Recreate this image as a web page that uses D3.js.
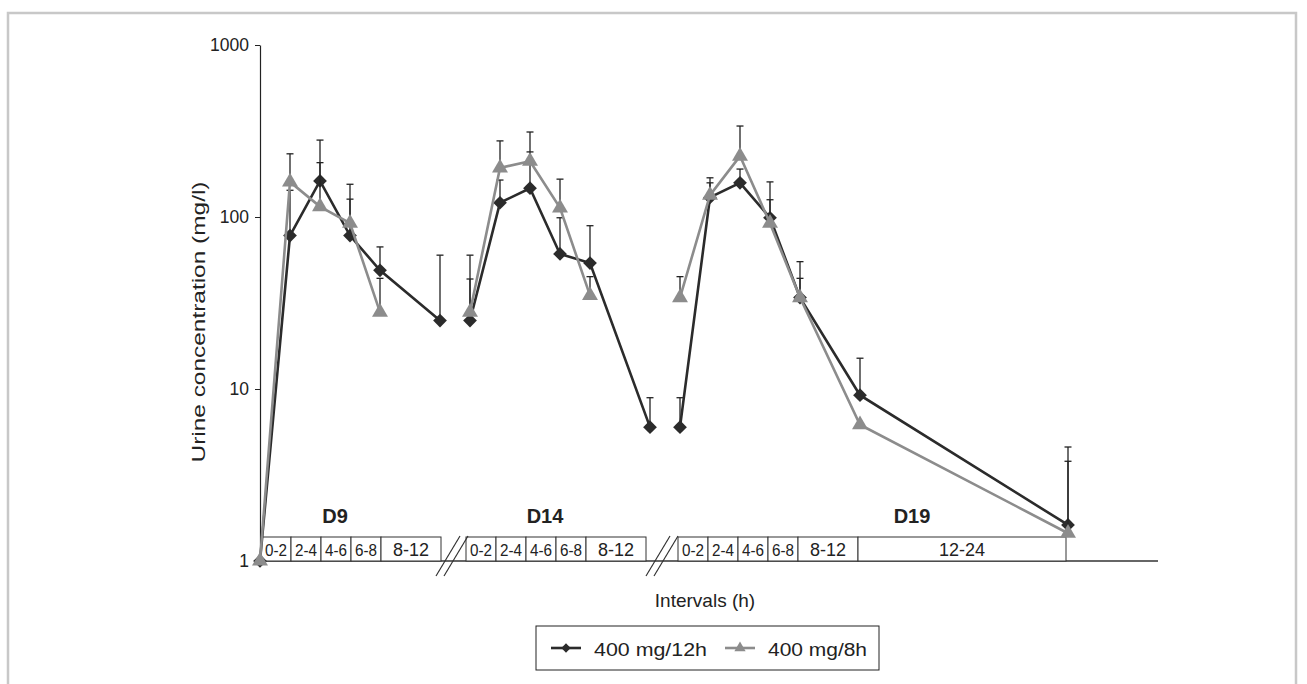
<!DOCTYPE html>
<html>
<head>
<meta charset="utf-8">
<script src="https://cdn.jsdelivr.net/npm/d3@7"></script>
<style>
  body { margin: 0; background: #fff; }
  svg text { font-family: "Liberation Sans", Arial, sans-serif; fill: #222; }
</style>
</head>
<body>
<svg id="chart" width="1307" height="684"></svg>
<script>
// days of sampling, and where each day starts on the broken time axis (h)
var days = ["D9", "D14", "D19"];
var dayOffset = [0, 14, 28];
var dayTimes = [
  [0, 2, 4, 6, 8, 12],
  [0, 2, 4, 6, 8, 12],
  [0, 2, 4, 6, 8, 12, 24]
];
var intervalLabels = [
  ["0-2", "2-4", "4-6", "6-8", "8-12"],
  ["0-2", "2-4", "4-6", "6-8", "8-12"],
  ["0-2", "2-4", "4-6", "6-8", "8-12", "12-24"]
];

// 400 mg/12h (black diamonds)
var q12hValues = [
  [1, 78, 162, 78, 49, 25],
  [25, 121, 147, 61, 54, 6.0],
  [6.0, 130, 158, 99, 34, 9.2, 1.62]
];
var q12hUpper = [
  [null, 143, 280, 127, 67, 60],
  [60, 164, 239, 99, 89, 8.9],
  [8.9, 158, 190, 126, 55, 15.1, 4.6]
];

// 400 mg/8h (grey triangles)
var q8hValues = [
  [1, 160, 115, 92, 28],
  [28, 193, 211, 113, 35],
  [34, 134, 226, 92, 34, 6.2, 1.45]
];
var q8hUpper = [
  [null, 233, 207, 155, 44],
  [43.6, 277, 312, 166, 45],
  [45, 169, 338, 160, 44, null, 3.8]
];

var yTicks = [1, 10, 100, 1000];

var dark = "#2b2b2b", grey = "#8c8c8c";

var svg = d3.select("#chart");

// outer frame
svg.append("path")
  .attr("d", "M8,700 V13 H1296 V700")
  .attr("fill", "none")
  .attr("stroke", "#c8c8c8")
  .attr("stroke-width", 2.5);

// broken time axis: piecewise linear, 12-24 h of D19 is squeezed
var x = d3.scaleLinear()
  .domain([0, 40, 52])
  .range([260, 860, 1068]);

var y = d3.scaleLog()
  .domain([1, 1000])
  .range([561, 45]);

var axisEnd = 1158;

// y axis
var yAxis = svg.append("g")
  .attr("transform", "translate(" + x(0) + ",0)")
  .call(d3.axisLeft(y).tickValues(yTicks).tickFormat(d3.format("d")).tickSize(5).tickSizeOuter(0));
yAxis.select(".domain").attr("stroke", "#222").attr("stroke-width", 1.2);
yAxis.selectAll(".tick line").attr("stroke", "#222");
yAxis.selectAll(".tick text")
  .attr("x", -11)
  .style("font-size", "17.5px")
  .style("font-family", "Liberation Sans, Arial, sans-serif")
  .attr("fill", "#222");

// x axis line
svg.append("line")
  .attr("x1", x(0)).attr("x2", axisEnd)
  .attr("y1", y(1)).attr("y2", y(1))
  .attr("stroke", "#333").attr("stroke-width", 1.5);

// interval boxes under each day
var boxTop = 537, boxShift = [1, -4, -2];
days.forEach(function(day, di) {
  var t = dayTimes[di];
  var g = svg.append("g").attr("class", "intervals");
  intervalLabels[di].forEach(function(lab, k) {
    var x0 = x(dayOffset[di] + t[k]) + boxShift[di];
    var x1 = x(dayOffset[di] + t[k + 1]) + boxShift[di];
    g.append("rect")
      .attr("x", x0).attr("y", boxTop)
      .attr("width", x1 - x0).attr("height", y(1) - boxTop)
      .attr("fill", "#fff")
      .attr("stroke", "#333").attr("stroke-width", 1);
    var txt = g.append("text")
      .attr("x", (x0 + x1) / 2).attr("y", 556)
      .attr("text-anchor", "middle")
      .style("font-size", lab.length > 3 ? "18px" : "16px")
      .text(lab);
    if (lab.length <= 3) {
      txt.attr("textLength", 22).attr("lengthAdjust", "spacingAndGlyphs");
    }
  });

  var labelHour = di == 2 ? 15 : 5;
  svg.append("text")
    .attr("x", x(dayOffset[di] + labelHour))
    .attr("y", 523)
    .attr("text-anchor", "middle")
    .style("font-size", "20px")
    .style("font-weight", "bold")
    .text(day);
});

// axis break marks
[1, 2].forEach(function(di) {
  var mid = (x(dayOffset[di - 1] + 12) + x(dayOffset[di])) / 2 - 3;
  [-4, 4].forEach(function(dx) {
    svg.append("line")
      .attr("x1", mid + dx - 12).attr("y1", 576)
      .attr("x2", mid + dx + 12).attr("y2", 536)
      .attr("stroke", "#333").attr("stroke-width", 1.2);
  });
});

// flatten a series into day segments of {x, v, up}
function segments(values, upper) {
  return values.map(function(vals, di) {
    return vals.map(function(v, k) {
      return { x: x(dayOffset[di] + dayTimes[di][k]), v: v, up: upper[di][k] };
    });
  });
}

var line = d3.line()
  .x(function(d) { return d.x; })
  .y(function(d) { return y(d.v); });

var diamond = d3.symbol().type(d3.symbolDiamond2).size(120);
var triangle = d3.symbol().type(d3.symbolTriangle).size(110);

function drawSeries(values, upper, colour, symbol) {
  var segs = segments(values, upper);
  var g = svg.append("g");
  var pts = [].concat.apply([], segs);

  // error bars (upper only)
  var eb = g.selectAll(".err")
    .data(pts.filter(function(d) { return d.up; }))
    .enter().append("g");
  eb.append("line")
    .attr("x1", function(d) { return d.x; }).attr("x2", function(d) { return d.x; })
    .attr("y1", function(d) { return y(d.v); }).attr("y2", function(d) { return y(d.up); })
    .attr("stroke", "#222").attr("stroke-width", 1.3);
  eb.append("line")
    .attr("x1", function(d) { return d.x - 3.5; }).attr("x2", function(d) { return d.x + 3.5; })
    .attr("y1", function(d) { return y(d.up); }).attr("y2", function(d) { return y(d.up); })
    .attr("stroke", "#222").attr("stroke-width", 1.3);

  g.selectAll(".seg")
    .data(segs)
    .enter().append("path")
    .attr("d", line)
    .attr("fill", "none")
    .attr("stroke", colour)
    .attr("stroke-width", 2.6);

  g.selectAll(".mark")
    .data(pts)
    .enter().append("path")
    .attr("transform", function(d) { return "translate(" + d.x + "," + y(d.v) + ")"; })
    .attr("d", symbol)
    .attr("fill", colour);
}

drawSeries(q12hValues, q12hUpper, dark, diamond);
drawSeries(q8hValues, q8hUpper, grey, triangle);

// axis titles
svg.append("text")
  .attr("transform", "translate(205,322) rotate(-90)")
  .attr("text-anchor", "middle")
  .attr("textLength", 281)
  .attr("lengthAdjust", "spacingAndGlyphs")
  .style("font-size", "18px")
  .text("Urine concentration (mg/l)");

svg.append("text")
  .attr("x", 705).attr("y", 607)
  .attr("text-anchor", "middle")
  .style("font-size", "19px")
  .text("Intervals (h)");

// legend
var legend = svg.append("g");
legend.append("rect")
  .attr("x", 536).attr("y", 626)
  .attr("width", 343).attr("height", 44)
  .attr("fill", "#fff").attr("stroke", "#222").attr("stroke-width", 1);

var legendItems = [
  { label: "400 mg/12h", colour: dark, type: d3.symbolDiamond2, x0: 551, tx: 594, len: 113 },
  { label: "400 mg/8h", colour: grey, type: d3.symbolTriangle, x0: 725, tx: 768, len: 99 }
];
legendItems.forEach(function(it) {
  legend.append("line")
    .attr("x1", it.x0).attr("x2", it.x0 + 30)
    .attr("y1", 648).attr("y2", 648)
    .attr("stroke", it.colour).attr("stroke-width", 2.6);
  legend.append("path")
    .attr("transform", "translate(" + (it.x0 + 15) + ",648)")
    .attr("d", d3.symbol().type(it.type).size(55))
    .attr("fill", it.colour);
  legend.append("text")
    .attr("x", it.tx).attr("y", 656)
    .attr("textLength", it.len)
    .attr("lengthAdjust", "spacingAndGlyphs")
    .style("font-size", "18px")
    .text(it.label);
});
</script>
</body>
</html>
